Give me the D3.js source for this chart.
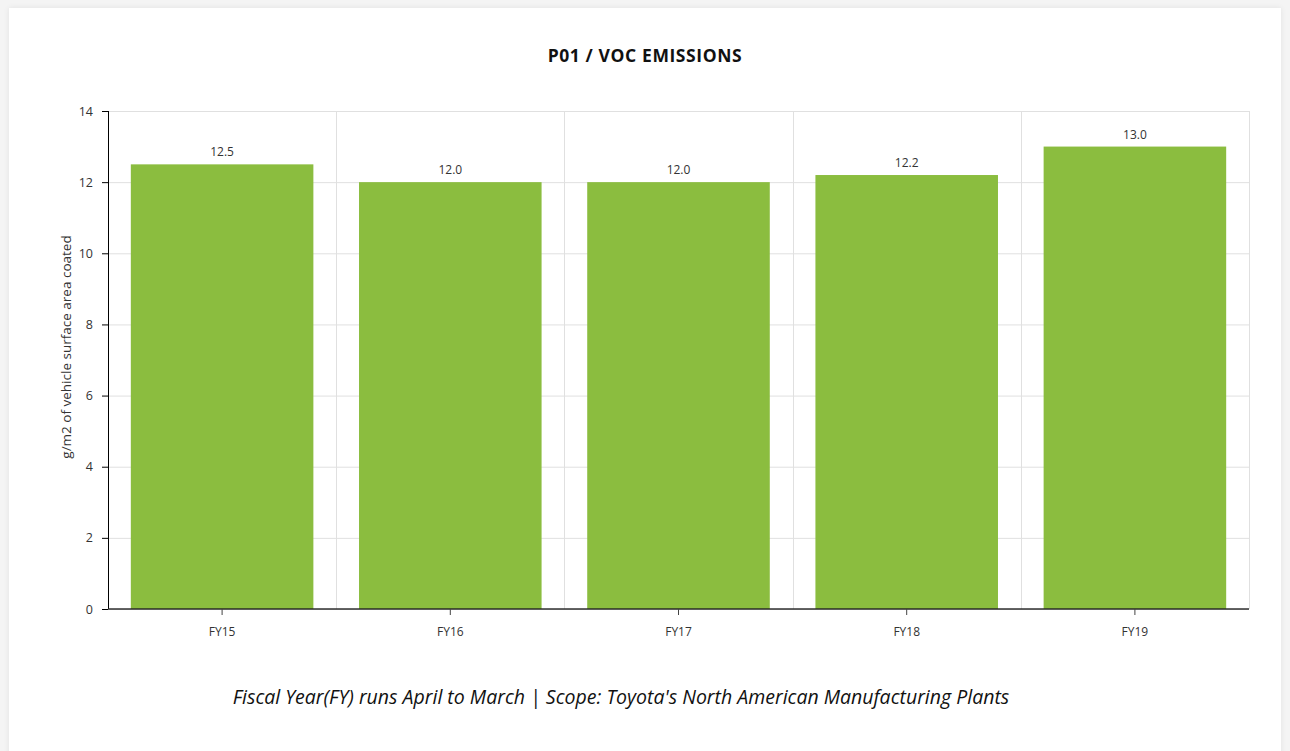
<!DOCTYPE html>
<html>
<head>
<meta charset="utf-8">
<script src="https://cdn.jsdelivr.net/npm/d3@7"></script>
<style>
	html, body { margin: 0; padding: 0; background: #f4f4f4; overflow: hidden; }
	#card {
		position: absolute; left: 9px; top: 8px; width: 1272px; height: 760px;
		background: #fff; box-shadow: 0 0 6px rgba(0,0,0,0.08);
	}
	#chart > svg { display: block; }
	text { font-family: "Open Sans", "Noto Sans", sans-serif; fill: #333; }
</style>
</head>
<body>
<div id="card"><div id="chart"><svg width="1272" height="743"></svg></div></div>
<script>
var categories = ['FY15', 'FY16', 'FY17', 'FY18', 'FY19'];
var values = [12.5, 12.0, 12.0, 12.2, 13.0];
var yTicks = [0, 2, 4, 6, 8, 10, 12, 14];
var title = 'P01 / VOC EMISSIONS';
var yTitle = 'g/m2 of vehicle surface area coated';
var footnote = 'Fiscal Year(FY) runs April to March | Scope: Toyota\'s North American Manufacturing Plants';

const Chart = {
	margin: { top: 103, left: 99, right: 32, bottom: 142 },

	draw: function() {
		const self = this;
		var margin = self.margin;
		var svg = d3.select('#chart > svg');
		var canvasWidth = +svg.attr('width');
		var canvasHeight = +svg.attr('height');
		var w = canvasWidth - margin.left - margin.right;
		var h = canvasHeight - margin.top - margin.bottom;

		var xScale = d3.scaleBand()
			.domain(categories)
			.range([0, w])
			.paddingInner(0.2)
			.paddingOuter(0.1);
		var yScale = d3.scaleLinear()
			.domain([0, 14])
			.range([h, 0]);

		svg.append('text')
			.attr('x', canvasWidth / 2)
			.attr('y', 54)
			.attr('text-anchor', 'middle')
			.style('font-size', '17.5px')
			.style('font-weight', 'bold')
			.style('fill', '#111')
			.style('letter-spacing', '0.6px')
			.text(title);

		var group = svg.append('g')
			.attr('transform', 'translate(' + [margin.left, margin.top] + ')');

		// y grid
		group.append('g').selectAll('line')
			.data(yTicks)
			.enter().append('line')
			.attr('x1', 0).attr('x2', w)
			.attr('y1', function(d) { return yScale(d) + 0.5 })
			.attr('y2', function(d) { return yScale(d) + 0.5 })
			.attr('stroke', '#e0e0e0');

		// x grid at band edges
		var edges = d3.range(1, categories.length + 1).map(function(i) { return i * w / categories.length });
		group.append('g').selectAll('line')
			.data(edges)
			.enter().append('line')
			.attr('x1', function(d) { return Math.round(d) + 0.5 })
			.attr('x2', function(d) { return Math.round(d) + 0.5 })
			.attr('y1', 0).attr('y2', h)
			.attr('stroke', '#e0e0e0');

		// bars
		group.append('g').selectAll('rect')
			.data(values)
			.enter().append('rect')
			.attr('x', function(d, i) { return xScale(categories[i]) })
			.attr('width', xScale.bandwidth())
			.attr('y', function(d) { return yScale(d) })
			.attr('height', function(d) { return h - yScale(d) })
			.attr('fill', '#8bbd3f');

		// value labels
		group.append('g').selectAll('text')
			.data(values)
			.enter().append('text')
			.attr('x', function(d, i) { return xScale(categories[i]) + xScale.bandwidth() / 2 })
			.attr('y', function(d) { return yScale(d) - 8 })
			.attr('text-anchor', 'middle')
			.style('font-size', '12px')
			.text(function(d) { return d3.format('.1f')(d) });

		// y axis
		var yAxis = group.append('g')
			.call(d3.axisLeft(yScale).tickValues(yTicks).tickSize(6).tickPadding(9));
		yAxis.select('.domain').attr('stroke', '#000').attr('d', 'M0.5,0V' + h);
		yAxis.selectAll('.tick line').attr('stroke', '#000');
		yAxis.selectAll('text').style('font-size', '12.5px').style('fill', '#333');

		// x axis
		var xAxis = group.append('g')
			.attr('transform', 'translate(0,' + h + ')')
			.call(d3.axisBottom(xScale).tickSize(6).tickPadding(12));
		xAxis.select('.domain')
			.attr('stroke', '#222')
			.attr('stroke-opacity', 0.7)
			.attr('stroke-width', 2)
			.attr('d', 'M0,0H' + w);
		xAxis.selectAll('.tick line').attr('stroke', '#444');
		xAxis.selectAll('text').style('font-size', '12px').style('fill', '#333');

		// y axis title
		svg.append('text')
			.attr('transform', 'translate(62,' + (margin.top + h / 2 - 13) + ') rotate(-90)')
			.attr('text-anchor', 'middle')
			.style('font-size', '13.5px')
			.text(yTitle);

		// footnote
		svg.append('text')
			.attr('x', 612)
			.attr('y', 696)
			.attr('text-anchor', 'middle')
			.style('font-size', '19.5px')
			.style('font-style', 'italic')
			.style('fill', '#111')
			.text(footnote);
	}
};

Chart.draw();
</script>
</body>
</html>
